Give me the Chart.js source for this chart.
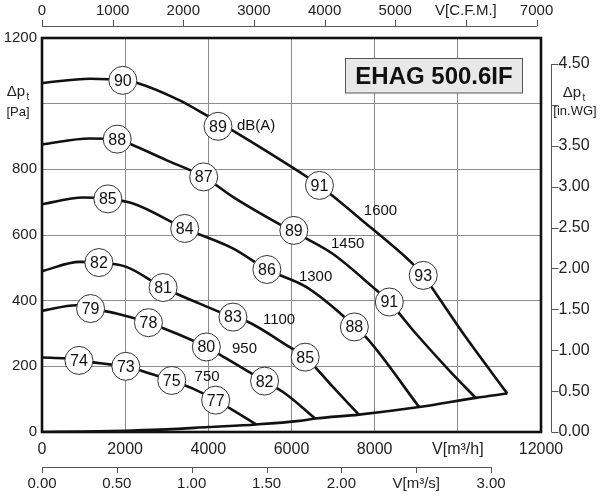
<!DOCTYPE html>
<html>
<head>
<meta charset="utf-8">
<script src="https://cdn.jsdelivr.net/npm/chart.js@4.4.1/dist/chart.umd.min.js"></script>
<style>
  html, body { margin: 0; padding: 0; background: #fff; }
  #wrap { width: 600px; height: 500px; }
</style>
</head>
<body>
<div id="wrap"><canvas id="fan"></canvas></div>
<script>
// main axes: flow m3/h, total pressure Pa
const flowTicks = [0, 2000, 4000, 6000, 8000, 10000, 12000];
const flowLabels = ['0', '2000', '4000', '6000', '8000', 'V[m³/h]', '12000'];
const paTicks = [0, 200, 400, 600, 800, 1000, 1200];
const paLabels = ['0', '200', '400', '600', '800', '', '1200'];

// extra axes
const cfmTicks = [0, 1000, 2000, 3000, 4000, 5000, 6000, 7000];
const cfmLabels = ['0', '1000', '2000', '3000', '4000', '5000', 'V[C.F.M.]', '7000'];
const m3sTicks = [0, 0.5, 1, 1.5, 2, 2.5, 3];
const m3sLabels = ['0.00', '0.50', '1.00', '1.50', '2.00', 'V[m³/s]', '3.00'];
const inwgTicks = [0, 0.5, 1, 1.5, 2, 2.5, 3, 3.5, 4, 4.5];
const inwgLabels = ['0.00', '0.50', '1.00', '1.50', '2.00', '2.50', '3.00', '3.50', '', '4.50'];

// unit conversions
const M3H_PER_CFM = 1.699;
const M3H_PER_M3S = 3600;
const PA_PER_INWG = 249.09;

// fan curves (flow m3/h, pressure Pa)
const rpm = ['1600', '1450', '1300', '1100', '950', '750'];
const flow1600 = [0, 1150, 1950, 2290, 3310, 3950, 4590, 6190, 6670, 7790, 8910, 9170, 9390, 10190, 11190];
const pres1600 = [1063, 1076, 1071, 1063, 1010, 965, 918, 792, 751, 635, 513, 477, 437, 289, 117];
const flow1450 = [0, 1150, 1810, 2110, 2990, 3890, 4590, 5750, 6350, 6990, 7950, 8350, 8990, 9790, 10430];
const pres1450 = [876, 894, 892, 878, 828, 777, 716, 630, 590, 543, 442, 396, 300, 188, 104];
const flow1300 = [0, 990, 1580, 2190, 3430, 4590, 5410, 6350, 7230, 7510, 7790, 9070];
const pres1300 = [694, 714, 710, 696, 620, 559, 495, 442, 355, 320, 289, 76];
const flow1100 = [0, 910, 1370, 2030, 2910, 3790, 4590, 4910, 5950, 6330, 6990, 7620];
const pres1100 = [490, 518, 516, 503, 440, 391, 350, 338, 259, 228, 138, 53];
const flow950 = [0, 830, 1170, 1790, 2560, 3230, 3950, 4430, 5350, 5870, 6570];
const pres950 = [369, 386, 376, 361, 333, 300, 259, 224, 155, 115, 41];
const flow750 = [0, 590, 890, 1630, 2020, 2590, 3120, 3630, 4180, 5150];
const pres750 = [227, 224, 218, 206, 200, 178, 157, 132, 97, 23];
// lower limit line
const flowLimit = [0, 1000, 2000, 3000, 4000, 5150, 6190, 6570, 7620, 9070, 10430, 11190];
const presLimit = [0, 1, 4, 8, 15, 23, 34, 41, 53, 76, 104, 117];

// circled sound levels dB(A)
const badgeFlow = [1944, 4232, 6672, 9168, 1808, 3888, 6056, 8352, 1584, 3432, 5408, 7512,
                   1368, 2912, 4592, 6328, 1168, 2560, 3952, 5352, 888, 2016, 3120, 4176];
const badgePres = [1071, 931, 751, 477, 892, 777, 614, 396, 710, 620, 495, 320,
                   516, 440, 350, 228, 376, 333, 259, 155, 218, 200, 157, 97];
const badgeDb = [90, 89, 91, 93, 88, 87, 89, 91, 85, 84, 86, 88,
                 82, 81, 83, 85, 79, 78, 80, 82, 74, 73, 75, 77];

// rpm labels next to the curves
const rpmLabelFlow = [8140, 7350, 6580, 5700, 4870, 3970];
const rpmLabelPres = [675, 572, 474, 342, 254, 168];

const FONT = '"Liberation Sans", Arial, sans-serif';

function pts(xs, ys) {
  return xs.map((x, i) => ({ x: x, y: ys[i] }));
}

function curve(xs, ys) {
  return {
    type: 'line',
    data: pts(xs, ys),
    borderColor: '#111',
    borderWidth: 2.6,
    pointRadius: 0,
    fill: false,
    cubicInterpolationMode: 'monotone',
    order: 1
  };
}

// labels, frame, extra axes, title box
const decor = {
  id: 'decor',
  afterDatasetsDraw(chart) {
    const ctx = chart.ctx;
    const xs = chart.scales.x, ys = chart.scales.y;
    ctx.save();
    // dB numbers inside circles
    const meta = chart.getDatasetMeta(0);
    ctx.fillStyle = '#111';
    ctx.font = '16px ' + FONT;
    ctx.textAlign = 'center';
    ctx.textBaseline = 'middle';
    meta.data.forEach((el, i) => {
      ctx.fillText(String(badgeDb[i]), el.x, el.y + 1);
    });
    // rpm
    ctx.font = '15px ' + FONT;
    rpm.forEach((r, i) => {
      ctx.fillText(r, xs.getPixelForValue(rpmLabelFlow[i]), ys.getPixelForValue(rpmLabelPres[i]));
    });
    ctx.fillText('dB(A)', xs.getPixelForValue(5150), ys.getPixelForValue(932));
    ctx.restore();
  },
  afterDraw(chart) {
    const ctx = chart.ctx;
    const a = chart.chartArea;
    const xs = chart.scales.x, ys = chart.scales.y;
    ctx.save();

    // plot frame
    ctx.strokeStyle = '#111';
    ctx.lineWidth = 2.6;
    ctx.strokeRect(a.left, a.top, a.right - a.left, a.bottom - a.top);

    // title box
    ctx.fillStyle = '#e8e8e8';
    ctx.fillRect(345, 58.5, 177, 34.5);
    ctx.strokeStyle = '#555';
    ctx.lineWidth = 1;
    ctx.strokeRect(345.5, 58.5, 177, 34.5);
    ctx.fillStyle = '#111';
    ctx.font = 'bold 24px ' + FONT;
    ctx.textAlign = 'center';
    ctx.textBaseline = 'middle';
    ctx.fillText('EHAG 500.6IF', 434, 77);

    ctx.strokeStyle = '#555';
    ctx.fillStyle = '#222';
    ctx.lineWidth = 1;

    // top axis, CFM
    const topY = 26;
    const cfmPx = cfmTicks.map(v => xs.getPixelForValue(v * M3H_PER_CFM));
    ctx.beginPath();
    ctx.moveTo(cfmPx[0], topY + 0.5);
    ctx.lineTo(cfmPx[cfmPx.length - 1], topY + 0.5);
    cfmPx.forEach(px => { ctx.moveTo(Math.round(px) + 0.5, topY); ctx.lineTo(Math.round(px) + 0.5, topY - 6); });
    ctx.stroke();
    ctx.font = '15px ' + FONT;
    ctx.textAlign = 'center';
    ctx.textBaseline = 'middle';
    cfmPx.forEach((px, i) => ctx.fillText(cfmLabels[i], px, 11));

    // bottom axis, m3/s
    const botY = 467;
    const m3sPx = m3sTicks.map(v => xs.getPixelForValue(v * M3H_PER_M3S));
    ctx.beginPath();
    ctx.moveTo(m3sPx[0], botY + 0.5);
    ctx.lineTo(m3sPx[m3sPx.length - 1], botY + 0.5);
    m3sPx.forEach(px => { ctx.moveTo(Math.round(px) + 0.5, botY); ctx.lineTo(Math.round(px) + 0.5, botY + 6); });
    ctx.stroke();
    m3sPx.forEach((px, i) => ctx.fillText(m3sLabels[i], px, 484));

    // right axis, in.WG
    const rX = 551.5;
    const inPx = inwgTicks.map(v => ys.getPixelForValue(v * PA_PER_INWG));
    ctx.beginPath();
    ctx.moveTo(rX, inPx[0]);
    ctx.lineTo(rX, inPx[inPx.length - 1]);
    inPx.forEach(py => { ctx.moveTo(rX, Math.round(py) + 0.5); ctx.lineTo(rX + 7, Math.round(py) + 0.5); });
    ctx.stroke();
    ctx.font = '16px ' + FONT;
    ctx.textAlign = 'left';
    inPx.forEach((py, i) => ctx.fillText(inwgLabels[i], rX + 7, py));

    // axis titles
    ctx.textAlign = 'center';
    ctx.font = '15px ' + FONT;
    ctx.fillText('Δp', 16, 92);
    ctx.font = '10px ' + FONT;
    ctx.fillText('t', 28, 97);
    ctx.font = '13px ' + FONT;
    ctx.fillText('[Pa]', 18, 112);

    ctx.font = '15px ' + FONT;
    ctx.fillText('Δp', 572, 93);
    ctx.font = '10px ' + FONT;
    ctx.fillText('t', 584, 98);
    ctx.font = '13px ' + FONT;
    ctx.fillText('[in.WG]', 575, 111);

    ctx.restore();
  }
};

const datasets = [
  {
    type: 'scatter',
    data: pts(badgeFlow, badgePres),
    pointRadius: 14,
    pointBackgroundColor: '#fff',
    pointBorderColor: '#333',
    pointBorderWidth: 1,
    showLine: false,
    order: 0
  },
  curve(flow1600, pres1600),
  curve(flow1450, pres1450),
  curve(flow1300, pres1300),
  curve(flow1100, pres1100),
  curve(flow950, pres950),
  curve(flow750, pres750),
  curve(flowLimit, presLimit)
];

new Chart(document.getElementById('fan'), {
  type: 'line',
  data: { datasets: datasets },
  options: {
    responsive: true,
    maintainAspectRatio: false,
    animation: false,
    events: [],
    layout: { padding: { top: 38, right: 59, bottom: 0, left: 0 } },
    plugins: { legend: { display: false }, tooltip: { enabled: false } },
    scales: {
      x: {
        type: 'linear',
        min: 0,
        max: 12000,
        afterBuildTicks: s => { s.ticks = flowTicks.map(v => ({ value: v })); },
        afterFit: s => { s.height = 68; },
        grid: { color: '#8c8c8c', lineWidth: 1, drawTicks: false },
        border: { display: false },
        ticks: {
          padding: 8,
          maxRotation: 0,
          autoSkip: false,
          color: '#222',
          font: { family: FONT, size: 16 },
          callback: (v) => flowLabels[flowTicks.indexOf(v)]
        }
      },
      y: {
        type: 'linear',
        min: 0,
        max: 1200,
        afterBuildTicks: s => { s.ticks = paTicks.map(v => ({ value: v })); },
        afterFit: s => { s.width = 42; },
        grid: { color: '#8c8c8c', lineWidth: 1, drawTicks: false },
        border: { display: false },
        ticks: {
          padding: 5,
          autoSkip: false,
          color: '#222',
          font: { family: FONT, size: 15 },
          callback: (v) => paLabels[paTicks.indexOf(v)]
        }
      }
    }
  },
  plugins: [decor]
});
</script>
</body>
</html>
